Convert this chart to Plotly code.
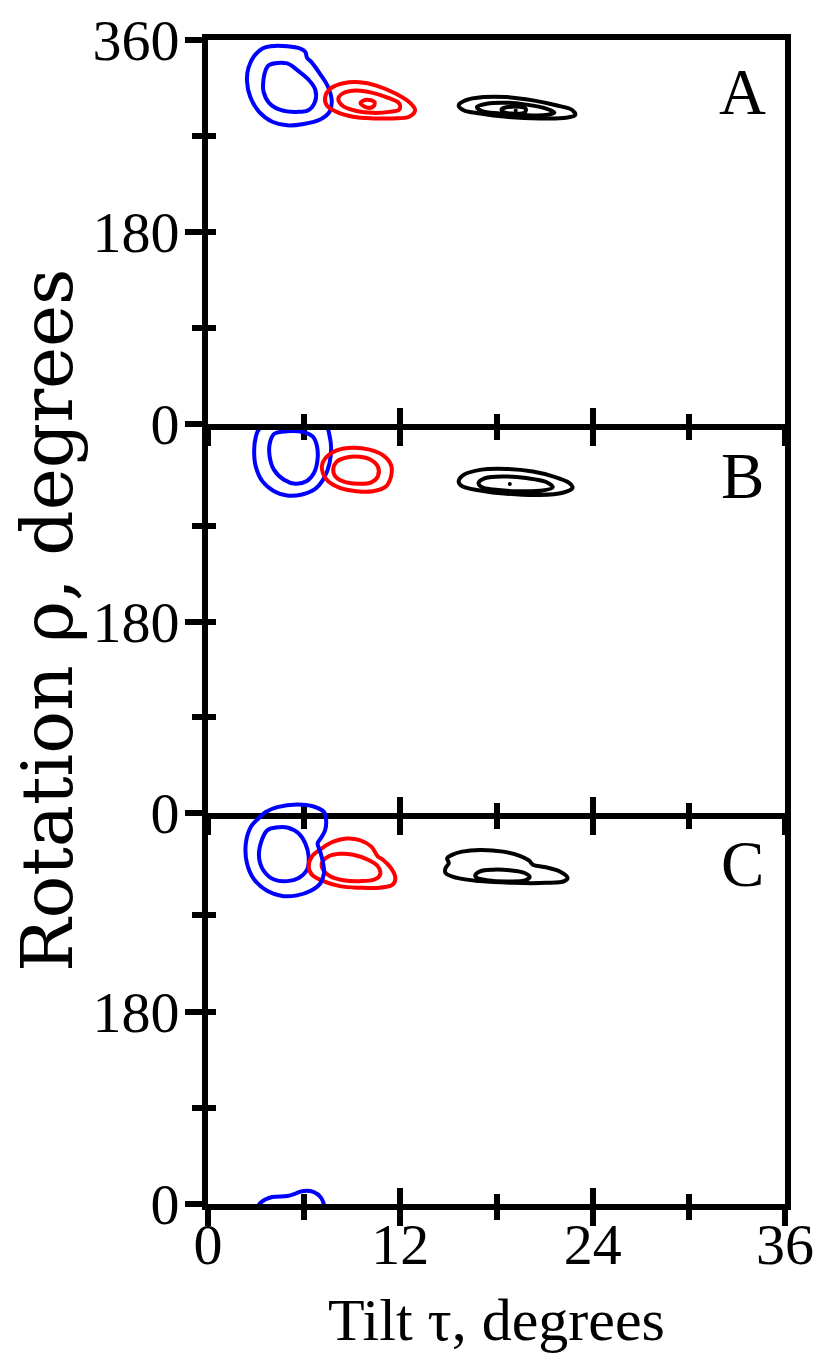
import plotly.graph_objects as go

# ---- axis ticks -------------------------------------------------------------
TAU_TICKS = [0, 12, 24, 36]
TAU_MINOR = [6, 18, 30]
RHO_TICKS_TOP = [0, 180, 360]
RHO_TICKS = [0, 180]
RHO_MINOR = [90, 270]
PANEL_LABELS = ["A", "B", "C"]

# ---- panel A contours: tilt tau (deg), rotation rho (deg) --------------------
A_BLUE_OUTER_TAU = [3.91, 3.40, 2.88, 2.53, 2.43, 2.64, 3.19, 4.01, 4.94, 5.97,
                    7.00, 7.58, 7.72, 7.45, 7.00, 6.48, 6.18, 6.07, 5.76, 4.94]
A_BLUE_OUTER_RHO = [354.2, 352.0, 345.0, 334.2, 321.9, 306.5, 292.6, 283.4, 280.0, 281.3,
                    285.5, 292.6, 303.4, 317.3, 328.0, 338.8, 343.4, 348.9, 352.0, 354.2]
A_BLUE_INNER_TAU = [3.81, 4.94, 5.56, 6.28, 6.69, 6.69, 6.28, 5.56, 4.53, 3.81, 3.46, 3.46, 3.60]
A_BLUE_INNER_RHO = [336.6, 338.1, 331.9, 322.7, 313.5, 302.7, 294.4, 292.6, 294.4, 301.1, 311.9, 322.7, 331.9]
A_RED_OUTER_TAU = [7.31, 7.62, 8.44, 9.47, 10.50, 11.73, 12.66, 12.92, 12.55, 11.52, 10.29, 9.06, 8.03, 7.41]
A_RED_OUTER_RHO = [306.5, 314.2, 319.4, 320.4, 317.3, 309.6, 300.4, 294.2, 288.0, 286.5, 286.5, 288.0, 292.6, 298.8]
A_RED_MID_TAU = [8.13, 8.44, 9.26, 10.08, 11.12, 11.94, 11.94, 11.32, 10.29, 9.26, 8.44]
A_RED_MID_RHO = [304.9, 310.2, 312.6, 311.1, 306.5, 300.4, 294.8, 292.6, 291.7, 293.5, 297.9]
A_RED_INNER_TAU = [9.51, 9.88, 10.39, 10.33, 9.92]
A_RED_INNER_RHO = [300.9, 304.0, 301.8, 297.9, 296.6]
A_BLACK_OUTER_TAU = [15.64, 16.06, 17.19, 18.63, 20.27, 21.72, 22.74, 22.91, 22.34, 20.69, 18.63, 16.98, 15.95]
A_BLACK_OUTER_RHO = [298.8, 303.4, 306.5, 306.5, 303.4, 298.8, 294.2, 289.6, 287.1, 286.5, 288.0, 291.1, 294.2]
A_BLACK_MID_TAU = [16.78, 17.39, 18.63, 19.86, 21.10, 21.61, 21.10, 19.66, 18.22, 17.09]
A_BLACK_MID_RHO = [297.2, 300.3, 301.2, 299.4, 295.7, 292.0, 289.6, 289.6, 291.1, 293.3]
A_BLACK_INNER_TAU = [18.32, 18.94, 19.82, 19.76, 18.94, 18.42]
A_BLACK_INNER_RHO = [295.1, 297.5, 295.7, 292.0, 291.1, 292.6]
A_BLACK_PEAK = (19.2, 294.0)

# ---- panel B contours ---------------------------------------------------------
B_BLUE_OUTER_TAU = [3.19, 2.98, 2.88, 2.98, 3.40, 4.12, 4.94, 5.87, 6.69, 7.24,
                    7.58, 7.68, 7.58, 7.41, 6.40, 5.20, 4.00]
B_BLUE_OUTER_RHO = [360.9, 353.3, 340.9, 325.6, 311.7, 302.5, 298.4, 299.4, 304.6, 314.8,
                    328.6, 344.0, 354.8, 362.5, 368.0, 369.0, 366.0]
B_BLUE_INNER_TAU = [4.12, 3.85, 3.85, 4.12, 4.74, 5.45, 6.17, 6.63, 6.84, 6.79, 6.54, 5.97, 4.94]
B_BLUE_INNER_RHO = [356.3, 347.1, 334.8, 322.5, 313.2, 309.5, 312.0, 320.1, 333.3, 345.5, 353.8, 357.9, 358.8]
B_RED_OUTER_TAU = [7.10, 7.31, 8.03, 9.06, 10.08, 10.91, 11.42, 11.42, 11.12, 10.29, 9.26, 8.23, 7.41]
B_RED_OUTER_RHO = [325.6, 333.2, 340.9, 343.4, 341.5, 336.3, 327.1, 316.4, 307.2, 302.5, 302.5, 305.6, 313.2]
B_RED_INNER_TAU = [7.82, 8.03, 8.65, 9.47, 10.19, 10.60, 10.60, 10.19, 9.37, 8.44, 7.92]
B_RED_INNER_RHO = [324.0, 330.2, 334.2, 334.8, 331.7, 325.6, 316.4, 310.8, 309.5, 311.7, 316.9]
B_BLACK_OUTER_TAU = [15.64, 15.95, 16.98, 18.63, 20.27, 21.51, 22.54, 22.74, 22.13, 20.69, 18.63, 16.98, 15.85]
B_BLACK_OUTER_RHO = [311.7, 317.8, 322.5, 323.4, 321.0, 316.4, 310.2, 305.6, 301.0, 298.9, 300.1, 303.2, 307.2]
B_BLACK_INNER_TAU = [16.88, 17.29, 18.42, 19.86, 21.10, 21.51, 20.89, 19.25, 17.80, 17.09]
B_BLACK_INNER_RHO = [310.2, 314.8, 316.4, 314.8, 311.1, 306.2, 303.2, 302.5, 304.0, 306.2]
B_BLACK_PEAK = (18.83, 309.2)

# ---- panel C contours ---------------------------------------------------------
C_BLUE_OUTER_TAU = [3.19, 2.67, 2.36, 2.43, 2.88, 3.71, 4.63, 5.56, 6.38, 7.00, 7.24,
                    7.16, 7.00, 6.84, 7.10, 7.31, 7.37, 7.24, 6.59, 5.56, 4.32, 3.60]
C_BLUE_OUTER_RHO = [361.2, 352.6, 337.2, 318.7, 303.4, 292.6, 288.0, 288.6, 292.6, 299.7, 309.5,
                    320.3, 329.5, 337.2, 343.4, 349.6, 358.8, 366.5, 371.7, 373.6, 371.1, 366.5]
C_BLUE_INNER_TAU = [3.71, 3.29, 3.19, 3.50, 4.12, 4.94, 5.66, 6.18, 6.28, 6.07, 5.66, 4.94, 4.22]
C_BLUE_INNER_RHO = [349.6, 337.2, 323.4, 311.1, 303.4, 301.9, 304.9, 312.6, 324.9, 337.2, 346.4, 352.0, 352.0]
# wrapped part of the outer blue level, just above rho = 0
C_BLUE_WRAP_TAU = [3.05, 3.30, 4.01, 4.94, 5.50, 5.87, 6.61, 7.05, 7.30]
C_BLUE_WRAP_RHO = [-4.0, 1.5, 6.5, 7.4, 10.0, 12.0, 11.1, 6.0, -4.0]
C_RED_OUTER_TAU = [6.28, 6.48, 7.10, 7.82, 8.65, 9.47, 10.19, 10.60, 10.91, 11.42, 11.69,
                   11.53, 10.70, 9.47, 8.23, 7.20, 6.48]
C_RED_OUTER_RHO = [315.7, 324.9, 332.6, 338.8, 341.8, 340.3, 334.2, 324.9, 321.9, 314.1, 304.9,
                   298.8, 295.7, 295.7, 297.2, 301.9, 308.0]
C_RED_INNER_TAU = [7.10, 7.51, 8.23, 9.06, 9.98, 10.60, 10.74, 10.39, 9.47, 8.44, 7.62, 7.20]
C_RED_INNER_RHO = [318.7, 324.9, 327.4, 326.5, 321.9, 315.7, 308.0, 303.4, 301.9, 302.8, 306.5, 312.0]
C_BLACK_OUTER_TAU = [14.82, 15.02, 14.92, 15.23, 15.85, 16.98, 18.42, 19.45, 20.02, 20.27,
                     20.99, 21.92, 22.43, 22.23, 21.10, 19.04, 16.98, 15.54, 14.82]
C_BLACK_OUTER_RHO = [314.1, 318.7, 323.4, 326.5, 329.5, 331.1, 329.5, 325.6, 321.3, 317.3,
                     315.1, 311.1, 304.9, 301.9, 300.3, 300.3, 301.9, 304.9, 309.5]
C_BLACK_INNER_TAU = [16.67, 16.98, 17.80, 18.83, 19.76, 20.07, 19.76, 18.63, 17.39, 16.78]
C_BLACK_INNER_RHO = [307.1, 311.1, 312.6, 312.0, 309.5, 305.8, 302.5, 301.6, 302.8, 304.9]

BLUE, RED, BLACK = "#0000ff", "#ff0000", "#000000"
FONT = "Liberation Serif"
LINE_W = 4
AXIS_W = 6

# frame geometry (pixels); axis lines sit half a line width outside each panel
W, H = 819, 1362
FRAME_L, FRAME_R, FRAME_T, FRAME_B = 205, 788, 37, 1207
HALF = AXIS_W / 2
PLOT_T, PLOT_B = FRAME_T + HALF, FRAME_B - HALF
PLOT_H = PLOT_B - PLOT_T
BOUNDS = [FRAME_T, 427, 816, FRAME_B]  # panel edges (line centres)


def ydom(top_px, bot_px):
    return [(PLOT_B - (bot_px - HALF)) / PLOT_H, (PLOT_B - (top_px + HALF)) / PLOT_H]


DOMS = [ydom(BOUNDS[k], BOUNDS[k + 1]) for k in range(3)]

# panel layout: (x axis, y axis, y domain, rho tick values)
PANELS = [
    ("x", "y", DOMS[0], RHO_TICKS_TOP),
    ("x2", "y2", DOMS[1], RHO_TICKS),
    ("x3", "y3", DOMS[2], RHO_TICKS),
]

CONTOURS = [
    # (panel index, colour, tau, rho, closed)
    (0, BLUE, A_BLUE_OUTER_TAU, A_BLUE_OUTER_RHO, True),
    (0, BLUE, A_BLUE_INNER_TAU, A_BLUE_INNER_RHO, True),
    (0, RED, A_RED_OUTER_TAU, A_RED_OUTER_RHO, True),
    (0, RED, A_RED_MID_TAU, A_RED_MID_RHO, True),
    (0, RED, A_RED_INNER_TAU, A_RED_INNER_RHO, True),
    (0, BLACK, A_BLACK_OUTER_TAU, A_BLACK_OUTER_RHO, True),
    (0, BLACK, A_BLACK_MID_TAU, A_BLACK_MID_RHO, True),
    (0, BLACK, A_BLACK_INNER_TAU, A_BLACK_INNER_RHO, True),
    (1, BLUE, B_BLUE_OUTER_TAU, B_BLUE_OUTER_RHO, True),
    (1, BLUE, B_BLUE_INNER_TAU, B_BLUE_INNER_RHO, True),
    (1, RED, B_RED_OUTER_TAU, B_RED_OUTER_RHO, True),
    (1, RED, B_RED_INNER_TAU, B_RED_INNER_RHO, True),
    (1, BLACK, B_BLACK_OUTER_TAU, B_BLACK_OUTER_RHO, True),
    (1, BLACK, B_BLACK_INNER_TAU, B_BLACK_INNER_RHO, True),
    (2, BLUE, C_BLUE_INNER_TAU, C_BLUE_INNER_RHO, True),
    (2, BLUE, C_BLUE_WRAP_TAU, C_BLUE_WRAP_RHO, False),
    (2, RED, C_RED_OUTER_TAU, C_RED_OUTER_RHO, True),
    (2, RED, C_RED_INNER_TAU, C_RED_INNER_RHO, True),
    (2, BLACK, C_BLACK_OUTER_TAU, C_BLACK_OUTER_RHO, True),
    (2, BLACK, C_BLACK_INNER_TAU, C_BLACK_INNER_RHO, True),
]

fig = go.Figure()


def loop(seq, closed):
    return list(seq) + [seq[0]] if closed else list(seq)


def contour_line(colour):
    return dict(color=colour, width=LINE_W, shape="spline", smoothing=1.0)


for idx, colour, tau, rho, closed in CONTOURS:
    xa, ya = PANELS[idx][0], PANELS[idx][1]
    fig.add_trace(go.Scatter(
        x=loop(tau, closed), y=loop(rho, closed), mode="lines", line=contour_line(colour),
        xaxis=xa, yaxis=ya, hoverinfo="skip", showlegend=False))

# the outer blue level of panel C runs past rho = 360 over the panel edge,
# so it is drawn on a taller hidden rho axis with the same scale
C_EXT_PX = 24
c_lo, c_hi = DOMS[2]
c_len = (c_hi - c_lo) * PLOT_H
c_ext_hi = c_hi + C_EXT_PX / PLOT_H
c_ext_top = 360 * (c_len + C_EXT_PX) / c_len
fig.add_trace(go.Scatter(
    x=loop(C_BLUE_OUTER_TAU, True), y=loop(C_BLUE_OUTER_RHO, True), mode="lines",
    line=contour_line(BLUE), xaxis="x3", yaxis="y10", hoverinfo="skip", showlegend=False))

# maxima markers
for (t, r), xa, ya in [(A_BLACK_PEAK, "x", "y"), (B_BLACK_PEAK, "x2", "y2")]:
    fig.add_trace(go.Scatter(x=[t], y=[r], mode="markers",
                             marker=dict(color=BLACK, size=4),
                             xaxis=xa, yaxis=ya, hoverinfo="skip", showlegend=False))

tickfont = dict(family=FONT, size=58, color="black")
layout = dict(
    width=W, height=H,
    margin=dict(l=FRAME_L + HALF, r=W - FRAME_R + HALF, t=PLOT_T, b=H - PLOT_B,
                pad=0, autoexpand=False),
    plot_bgcolor="rgba(0,0,0,0)", paper_bgcolor="white",
    showlegend=False,
)

for i, (xa, ya, dom, rticks) in enumerate(PANELS):
    xkey = "xaxis" if i == 0 else f"xaxis{i + 1}"
    ykey = "yaxis" if i == 0 else f"yaxis{i + 1}"
    layout[xkey] = dict(
        domain=[0, 1], anchor=ya, range=[0, 36], tickmode="array", tickvals=TAU_TICKS,
        ticks="outside", ticklen=16, tickwidth=AXIS_W, tickcolor="black",
        minor=dict(tickmode="array", tickvals=TAU_MINOR, ticks="outside",
                   ticklen=10, tickwidth=AXIS_W, tickcolor="black", showgrid=False),
        showline=True, linewidth=AXIS_W, linecolor="black", mirror=True,
        showgrid=False, zeroline=False, showticklabels=(i == 2), tickfont=tickfont,
        ticklabelstandoff=-32, automargin=False, fixedrange=True,
    )
    layout[ykey] = dict(
        domain=dom, anchor=xa, range=[0, 360], tickmode="array", tickvals=rticks,
        ticks="outside", ticklen=17, tickwidth=AXIS_W, tickcolor="black",
        minor=dict(tickmode="array", tickvals=RHO_MINOR, ticks="outside",
                   ticklen=10, tickwidth=AXIS_W, tickcolor="black", showgrid=False),
        showline=True, linewidth=AXIS_W, linecolor="black", mirror=True,
        showgrid=False, zeroline=False, tickfont=tickfont, ticklabelstandoff=-6,
        automargin=False, fixedrange=True,
    )
    # companion axes carrying the inward half of each tick
    ox, oy = f"x{i + 4}", f"y{i + 4}"
    layout[f"xaxis{i + 4}"] = dict(
        overlaying=xa, anchor=ya, side="bottom", range=[0, 36], tickmode="array",
        tickvals=TAU_TICKS, ticks="inside", ticklen=16, tickwidth=AXIS_W, tickcolor="black",
        minor=dict(tickmode="array", tickvals=TAU_MINOR, ticks="inside",
                   ticklen=10, tickwidth=AXIS_W, tickcolor="black", showgrid=False),
        showline=False, showgrid=False, zeroline=False, showticklabels=False,
        automargin=False, fixedrange=True,
    )
    layout[f"yaxis{i + 4}"] = dict(
        overlaying=ya, anchor=xa, side="left", range=[0, 360], tickmode="array",
        tickvals=rticks, ticks="inside", ticklen=8, tickwidth=AXIS_W, tickcolor="black",
        minor=dict(tickmode="array", tickvals=RHO_MINOR, ticks="inside",
                   ticklen=8, tickwidth=AXIS_W, tickcolor="black", showgrid=False),
        showline=False, showgrid=False, zeroline=False, showticklabels=False,
        automargin=False, fixedrange=True,
    )
    for tx, ty in [(ox, ya), (xa, oy)]:
        fig.add_trace(go.Scatter(x=[18], y=[180], mode="markers", marker=dict(opacity=0),
                                 xaxis=tx, yaxis=ty, hoverinfo="skip", showlegend=False))

layout["yaxis10"] = dict(domain=[c_lo, c_ext_hi], anchor="x3", range=[0, c_ext_top],
                         visible=False, automargin=False, fixedrange=True)

fig.update_layout(**layout)


def px_x(px):
    return (px - (FRAME_L + HALF)) / (FRAME_R - FRAME_L - 2 * HALF)


def px_y(py):
    return (PLOT_B - py) / PLOT_H


annotations = [
    dict(text="Tilt \u03c4, degrees", x=px_x(496), y=px_y(1320), xref="paper", yref="paper",
         xanchor="center", yanchor="middle", showarrow=False,
         font=dict(family=FONT, size=60, color="black")),
    dict(text="Rotation \u03c1, degrees", x=px_x(47), y=px_y(620), xref="paper", yref="paper",
         xanchor="center", yanchor="middle", textangle=-90, showarrow=False,
         font=dict(family="DejaVu Serif", size=71, color="black")),
]
for label, ycen in zip(PANEL_LABELS, [92, 476, 864]):
    annotations.append(dict(text=label, x=px_x(742), y=px_y(ycen), xref="paper", yref="paper",
                            xanchor="center", yanchor="middle", showarrow=False,
                            font=dict(family=FONT, size=65, color="black")))
fig.update_layout(annotations=annotations)

fig.write_html("out.html")
